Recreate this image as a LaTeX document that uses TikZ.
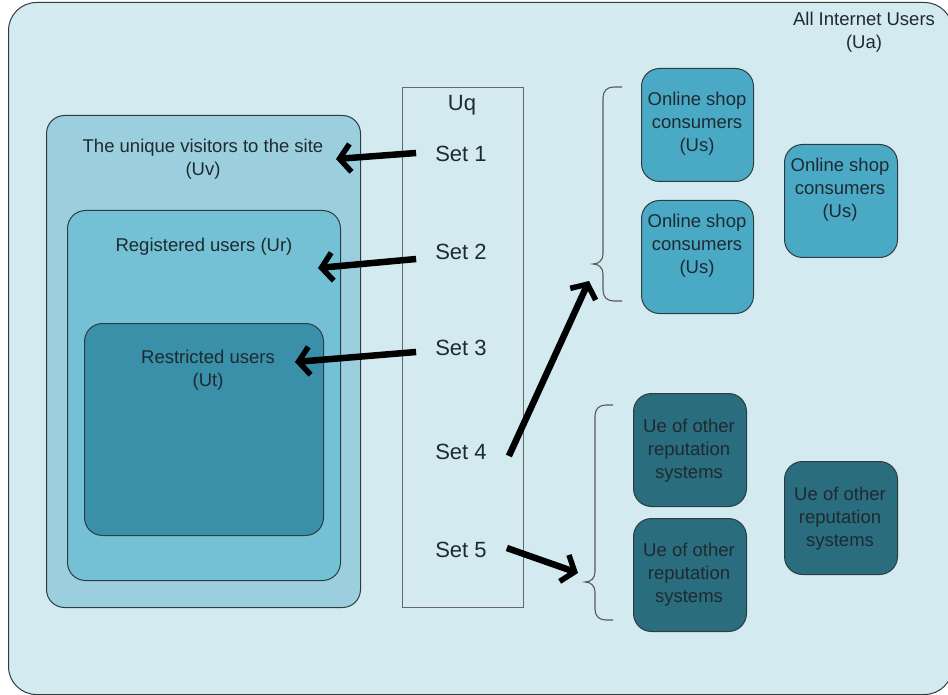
\documentclass[tikz,border=0pt]{standalone}
\usepackage{fontspec}
\setmainfont{Liberation Sans}
\usetikzlibrary{arrows.meta,calc}
\definecolor{bgc}{HTML}{D3EAF0}
\definecolor{uvc}{HTML}{9CCFDD}
\definecolor{urc}{HTML}{74C0D4}
\definecolor{utc}{HTML}{3990A8}
\definecolor{usc}{HTML}{4AAAC6}
\definecolor{uec}{HTML}{2A6D7F}
\definecolor{edgec}{HTML}{2E3B40}
\definecolor{txtc}{HTML}{1E2A30}
\tikzset{
  box/.style={draw=edgec, line width=1pt, rounded corners=18pt, inner sep=0pt},
  lbl/.style={font=\fontsize{18.5}{23}\selectfont, text=txtc, align=center, inner sep=0pt},
  setlbl/.style={font=\fontsize{22}{26}\selectfont, text=txtc, inner sep=0pt},
  bigarrow/.style={line width=6.5pt, -{Straight Barb[length=11pt,width=28pt,line width=5.5pt]}},
  bracec/.style={draw=black!65, line width=1.1pt}
}
\begin{document}
\begin{tikzpicture}[x=1pt,y=-1pt]
\useasboundingbox (0,0) rectangle (948,695);
% outer area
\node[box, fill=bgc, rounded corners=28pt, minimum width=944pt, minimum height=692pt, anchor=north west] (ua) at (8,2) {};
\node[lbl, anchor=north] (ualbl) at (864,12) {All Internet Users\\(Ua)};
% nested sets
\node[box, fill=uvc, minimum width=314pt, minimum height=492pt, anchor=north west] (uv) at (46,115) {};
\node[lbl, anchor=north] (uvlbl) at (203,139) {The unique visitors to the site\\(Uv)};
\node[box, fill=urc, minimum width=273pt, minimum height=370pt, anchor=north west] (ur) at (67,210) {};
\node[lbl, anchor=north] (urlbl) at (204,238) {Registered users (Ur)};
\node[box, fill=utc, minimum width=239pt, minimum height=212pt, anchor=north west] (ut) at (84,323) {};
\node[lbl, anchor=north] (utlbl) at (208,350) {Restricted users\\(Ut)};
% Uq column
\node[draw=black!60, line width=1pt, minimum width=121pt, minimum height=520pt, anchor=north west, inner sep=0pt] (uq) at (402,87) {};
\node[setlbl, anchor=north] (uqlbl) at (462,95) {Uq};
\node[setlbl] (s1) at (461,154) {Set 1};
\node[setlbl] (s2) at (461,252) {Set 2};
\node[setlbl] (s3) at (461,348) {Set 3};
\node[setlbl] (s4) at (461,452) {Set 4};
\node[setlbl] (s5) at (461,550) {Set 5};
% online shop boxes
\node[box, fill=usc, minimum width=112pt, minimum height=113pt, anchor=north west] (usa) at (641,68) {};
\node[lbl, anchor=north] (usalbl) at (697,92) {Online shop\\consumers\\(Us)};
\node[box, fill=usc, minimum width=112pt, minimum height=113pt, anchor=north west] (usb) at (641,200) {};
\node[lbl, anchor=north] (usblbl) at (697,214) {Online shop\\consumers\\(Us)};
\node[box, fill=usc, minimum width=113pt, minimum height=113pt, anchor=north west] (usc) at (784,144) {};
\node[lbl, anchor=north] (usclbl) at (840,158) {Online shop\\consumers\\(Us)};
% other reputation systems
\node[box, fill=uec, minimum width=113pt, minimum height=113pt, anchor=north west] (uea) at (633,393) {};
\node[lbl, anchor=north] (uealbl) at (689,419) {Ue of other\\reputation\\systems};
\node[box, fill=uec, minimum width=113pt, minimum height=113pt, anchor=north west] (ueb) at (633,518) {};
\node[lbl, anchor=north] (ueblbl) at (689,543) {Ue of other\\reputation\\systems};
\node[box, fill=uec, minimum width=113pt, minimum height=113pt, anchor=north west] (uec) at (784,461) {};
\node[lbl, anchor=north] (ueclbl) at (840,487) {Ue of other\\reputation\\systems};
% arrow end points
\coordinate (e1) at (336,159);
\coordinate (e2) at (318,268);
\coordinate (e3) at (295,362);
\coordinate (e4) at (589,281);
\coordinate (e5) at (578,573);
\draw[bigarrow] ($(s1.west)+(-19,-1)$) -- (e1);
\draw[bigarrow] ($(s2.west)+(-19,7)$) -- (e2);
\draw[bigarrow] ($(s3.west)+(-19,4)$) -- (e3);
\draw[bigarrow] ($(s4.east)+(22,4)$) -- (e4);
\draw[bigarrow] ($(s5.east)+(20,-2)$) -- (e5);
% braces
\draw[bracec] (622,87) -- (614,87) .. controls (607,87) and (603,91) .. (603,98)
  -- (603,254) .. controls (603,260) and (599,264) .. (593,264)
  .. controls (599,264) and (603,268) .. (603,274)
  -- (603,290) .. controls (603,297) and (607,301) .. (614,301) -- (622,301);
\draw[bracec] (613,405) -- (606,405) .. controls (599,405) and (595,409) .. (595,416)
  -- (595,572) .. controls (595,578) and (591,582) .. (585,582)
  .. controls (591,582) and (595,586) .. (595,592)
  -- (595,609) .. controls (595,616) and (599,620) .. (606,620) -- (613,620);
\end{tikzpicture}
\end{document}
